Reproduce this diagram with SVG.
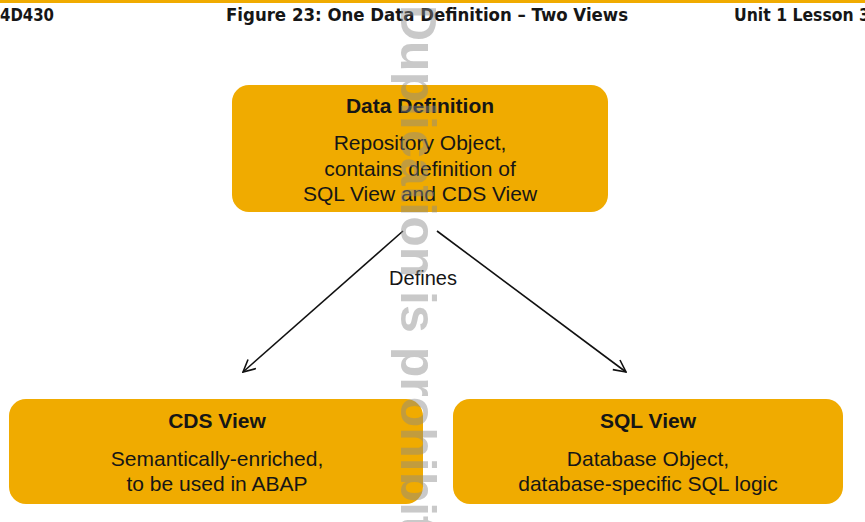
<svg xmlns="http://www.w3.org/2000/svg" width="865" height="522" viewBox="0 0 865 522">
  <defs>
    <marker id="arr" viewBox="0 0 14 14" refX="13" refY="7" markerWidth="14" markerHeight="14" markerUnits="userSpaceOnUse" orient="auto">
      <path d="M1,1 L13,7 L1,13" fill="none" stroke="#111" stroke-width="1.6"/>
    </marker>
  </defs>
  <style>
    .box { fill: #F0AB00; }
    .t { font-family: "Liberation Sans", Arial, sans-serif; font-size: 21px; fill: #161616; text-anchor: middle; }
    .b { font-weight: bold; }
    .hdr { font-family: "Liberation Sans Narrow", "DejaVu Sans Condensed", "Liberation Sans", sans-serif; font-weight: bold; font-size: 18px; fill: #161616; }
    .conn { stroke: #111; stroke-width: 1.6; fill: none; }
    .wm { font-family: "Liberation Sans", Arial, sans-serif; font-weight: bold; font-size: 50px; fill: #8a8a8a; opacity: 0.45; }
  </style>
  <rect x="0" y="0" width="865" height="522" fill="#ffffff"/>
  <rect x="0" y="0" width="865" height="3" fill="#F0AB00"/>
  <g id="header">
    <text class="hdr" x="0" y="21" textLength="54" lengthAdjust="spacingAndGlyphs">4D430</text>
    <text class="hdr" x="226" y="21" textLength="402" lengthAdjust="spacingAndGlyphs">Figure 23: One Data Definition – Two Views</text>
    <text class="hdr" x="734" y="21" textLength="136" lengthAdjust="spacingAndGlyphs">Unit 1 Lesson 3</text>
  </g>
  <g id="connectors">
    <line class="conn" x1="403" y1="231" x2="243" y2="372" marker-end="url(#arr)"/>
    <line class="conn" x1="437" y1="231" x2="626" y2="372" marker-end="url(#arr)"/>
    <text class="t" x="423" y="285" style="font-size:20px">Defines</text>
  </g>
  <g id="data-definition">
    <rect class="box" x="232" y="85" width="376" height="127" rx="17"/>
    <text class="t b" x="420" y="113">Data Definition</text>
    <text class="t" x="420" y="150">Repository Object,</text>
    <text class="t" x="420" y="176">contains definition of</text>
    <text class="t" x="420" y="201">SQL View and CDS View</text>
  </g>
  <g id="cds-view">
    <rect class="box" x="9" y="399" width="414" height="105" rx="17"/>
    <text class="t b" x="217" y="428">CDS View</text>
    <text class="t" x="217" y="466">Semantically-enriched,</text>
    <text class="t" x="217" y="491">to be used in ABAP</text>
  </g>
  <g id="sql-view">
    <rect class="box" x="453" y="399" width="390" height="105" rx="17"/>
    <text class="t b" x="648" y="428">SQL View</text>
    <text class="t" x="648" y="466">Database Object,</text>
    <text class="t" x="648" y="491">database-specific SQL logic</text>
  </g>
  <text class="wm" transform="translate(401,5) rotate(90)">Duplication is prohibit</text>
</svg>
